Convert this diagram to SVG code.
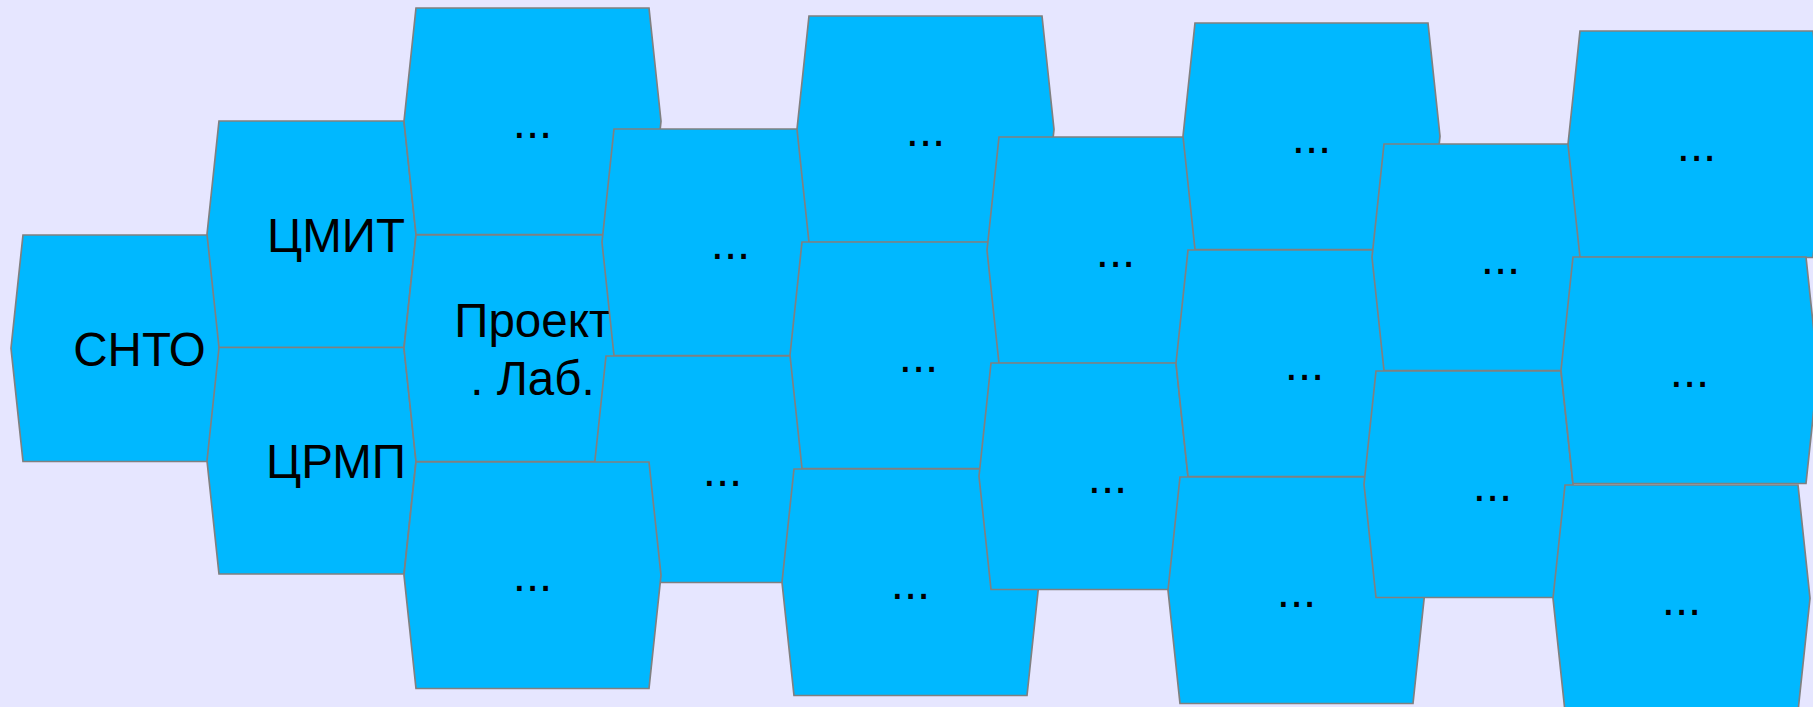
<svg xmlns="http://www.w3.org/2000/svg" xmlns:xlink="http://www.w3.org/1999/xlink" width="1813" height="707" viewBox="0 0 1813 707">
<style>
.hex{fill:#00B8FF;stroke:#808080;stroke-width:1.7;stroke-linejoin:miter}
.t{font-family:"Liberation Sans",Arial,sans-serif;font-size:47.5px;fill:#000;text-anchor:middle}
</style>
<defs>
<path id="hn" class="hex" d="M12,0 H197 L209,113.25 L197,226.5 H12 L0,113.25 Z"/>
<path id="hw" class="hex" d="M12,0 H245 L257,113.25 L245,226.5 H12 L0,113.25 Z"/>
</defs>
<rect x="0" y="0" width="1813" height="707" fill="#E6E6FF"/>
<g id="n-snto"><use href="#hn" x="11" y="235"/><text class="t" x="139.5" y="365.5">СНТО</text></g>
<g id="n-cmit"><use href="#hn" x="207" y="121"/><text class="t" x="336" y="251.5">ЦМИТ</text></g>
<g id="n-crmp"><use href="#hn" x="207" y="347.5"/><text class="t" x="336" y="478">ЦРМП</text></g>
<g id="n-c1"><use href="#hw" x="404" y="8"/><text class="t" x="532.5" y="138">...</text></g>
<g id="n-proj"><use href="#hw" x="404" y="235"/><text class="t" x="532.5" y="336.5">Проект</text><text class="t" x="532.5" y="394.5">. Лаб.</text></g>
<g id="n-d1"><use href="#hn" x="602" y="129"/><text class="t" x="730.5" y="259">...</text></g>
<g id="n-d2"><use href="#hn" x="594" y="356"/><text class="t" x="722.5" y="486">...</text></g>
<g id="n-c3"><use href="#hw" x="404" y="462"/><text class="t" x="532.5" y="591">...</text></g>
<g id="n-e1"><use href="#hw" x="797" y="16"/><text class="t" x="925.5" y="146">...</text></g>
<g id="n-e2"><use href="#hw" x="790" y="242"/><text class="t" x="918.5" y="372">...</text></g>
<g id="n-e3"><use href="#hw" x="782" y="469"/><text class="t" x="910.5" y="599">...</text></g>
<g id="n-f1"><use href="#hn" x="987" y="137"/><text class="t" x="1115.5" y="267">...</text></g>
<g id="n-f2"><use href="#hn" x="979" y="363"/><text class="t" x="1107.5" y="493">...</text></g>
<g id="n-g1"><use href="#hw" x="1183" y="23"/><text class="t" x="1311.5" y="153">...</text></g>
<g id="n-g2"><use href="#hw" x="1176" y="250"/><text class="t" x="1304.5" y="380">...</text></g>
<g id="n-g3"><use href="#hw" x="1168" y="477"/><text class="t" x="1296.5" y="607">...</text></g>
<g id="n-h1"><use href="#hn" x="1372" y="144"/><text class="t" x="1500.5" y="274">...</text></g>
<g id="n-h2"><use href="#hn" x="1364" y="371"/><text class="t" x="1492.5" y="501">...</text></g>
<g id="n-i1"><use href="#hw" x="1568" y="31"/><text class="t" x="1696.5" y="161">...</text></g>
<g id="n-i2"><use href="#hw" x="1561" y="257"/><text class="t" x="1689.5" y="387">...</text></g>
<g id="n-i3"><use href="#hw" x="1553" y="485"/><text class="t" x="1681.5" y="615">...</text></g>
</svg>
